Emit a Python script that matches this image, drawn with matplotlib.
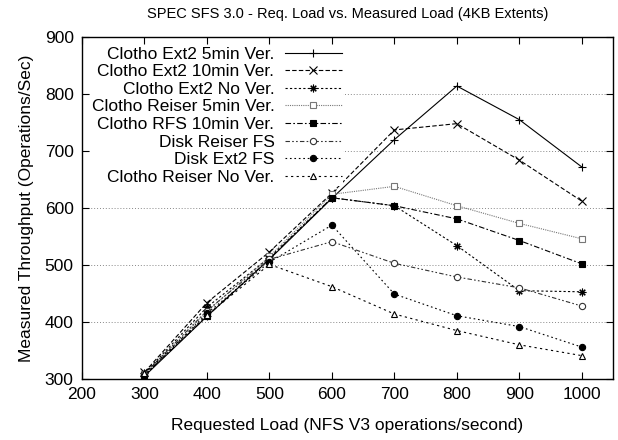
import matplotlib
matplotlib.use("Agg")
import matplotlib.pyplot as plt
import numpy as np

plt.rcParams['font.family'] = ['Liberation Sans', 'DejaVu Sans']

# requested load (x) and measured throughput per configuration
load = [300, 400, 500, 600, 700, 800, 900, 1000]

ext2_5min = [305, 410, 510, 617, 720, 814, 755, 672]
ext2_10min = [312, 434, 523, 626, 737, 748, 684, 612]
ext2_nover = [310, 426, 513, 618, 604, 534, 455, 453]
reiser_5min = [308, 418, 515, 624, 638, 604, 573, 546]
rfs_10min = [307, 410, 511, 618, 604, 581, 543, 502]
disk_reiser = [309, 420, 510, 541, 503, 479, 460, 428]
disk_ext2 = [306, 415, 505, 570, 449, 411, 392, 356]
reiser_nover = [310, 412, 501, 462, 414, 385, 360, 341]

labels = ["Clotho Ext2 5min Ver.", "Clotho Ext2 10min Ver.", "Clotho Ext2 No Ver.",
          "Clotho Reiser 5min Ver.", "Clotho RFS 10min Ver.", "Disk Reiser FS",
          "Disk Ext2 FS", "Clotho Reiser No Ver."]

series = [ext2_5min, ext2_10min, ext2_nover, reiser_5min,
          rfs_10min, disk_reiser, disk_ext2, reiser_nover]

# gnuplot-ish styles: (linestyle, marker, color, filled)
styles = [
    ('-', '+', 'black', False),
    ((0, (4, 2)), 'x', 'black', False),
    ((0, (2, 2)), (8, 2, 0), 'black', False),
    ((0, (1, 1)), 's', '#777777', False),
    ((0, (5, 2, 1.5, 2)), 's', 'black', True),
    ((0, (4, 2, 1.5, 2, 1.5, 2)), 'o', '#333333', False),
    ((0, (1.5, 2.5)), 'o', 'black', True),
    ((0, (2, 3)), '^', 'black', False),
]

fig = plt.figure(figsize=(6.18, 4.4), dpi=100)
ax = fig.add_axes([0.1327, 0.1386, 0.992 - 0.1327, 0.9159 - 0.1386])

for y, lab, (ls, mk, c, filled) in zip(series, labels, styles):
    ms = 5.5 if mk in ('+', 'x') or isinstance(mk, tuple) else 4.5
    ax.plot(load, y, linestyle=ls, color=c, linewidth=0.8, marker=mk,
            markersize=ms, markerfacecolor=c if filled else 'white',
            markeredgecolor=c, markeredgewidth=0.8, label=lab)

ax.set_xlim(200, 1050)
ax.set_ylim(300, 900)
ax.set_xticks(np.arange(200, 1001, 100))
ax.set_yticks(np.arange(300, 901, 100))
for v in range(400, 900, 100):
    ax.axhline(v, color='#888888', linestyle=(0, (1, 2)), linewidth=0.7, zorder=0)

ax.tick_params(direction='in', top=True, right=True, length=5, width=0.8,
               labelsize=12.5, pad=6)
for s in ax.spines.values():
    s.set_linewidth(1.0)

ax.set_xlabel("Requested Load (NFS V3 operations/second)", fontsize=12.5, labelpad=11)
ax.set_ylabel("Measured Throughput (Operations/Sec)", fontsize=12.5, labelpad=8)
ax.set_title("SPEC SFS 3.0 - Req. Load vs. Measured Load (4KB Extents)", fontsize=10.5, pad=14)

leg = ax.legend(loc='upper left', markerfirst=False, frameon=True, fontsize=12.5,
                handlelength=3.3, handletextpad=0.6, labelspacing=0.14,
                borderaxespad=0.5, borderpad=0.05, fancybox=False, numpoints=1)
leg.get_frame().set_edgecolor('none')
leg.get_frame().set_facecolor('white')
leg.get_frame().set_alpha(1.0)

fig.savefig("out.png", dpi=100)
